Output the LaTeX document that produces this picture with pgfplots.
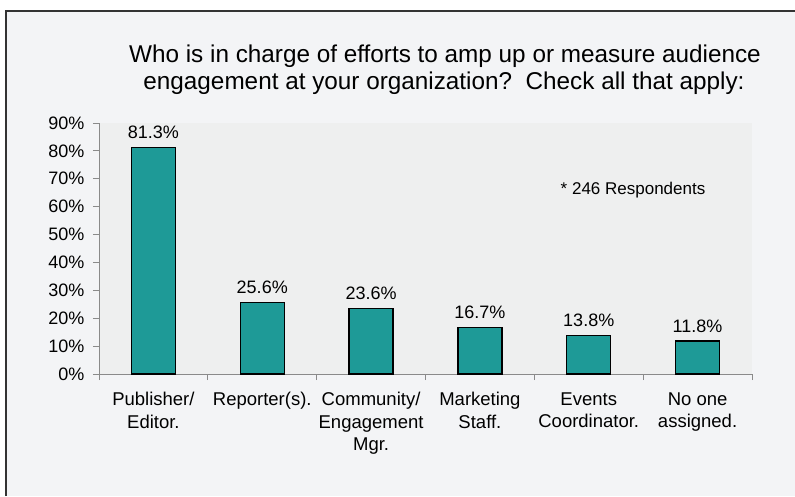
\documentclass[border=0pt]{standalone}
\usepackage{pgfplots}
\pgfplotsset{compat=1.18}
\usepackage{fontspec}
\setmainfont{Liberation Sans}
\definecolor{pagebg}{HTML}{F3F4F6}
\definecolor{plotbg}{HTML}{EEEFEF}
\definecolor{barc}{HTML}{1E9A97}
\definecolor{axc}{HTML}{8A8A8A}
\begin{document}
\begin{tikzpicture}[x=1pt,y=1pt]
\useasboundingbox (0pt,0pt) rectangle (795pt,496pt);
\fill[white] (0pt,0pt) rectangle (795pt,496pt);
\fill[pagebg] (6pt,0pt) rectangle (795pt,485pt);
\draw[line width=2.2pt, black!80] (6pt,0pt) -- (6pt,485pt) -- (795pt,485pt);
\node[anchor=base, font=\fontsize{24.3}{26}\selectfont] at (445pt,433pt)
  {Who is in charge of efforts to amp up or measure audience};
\node[anchor=base, font=\fontsize{24.3}{26}\selectfont] at (444pt,406pt)
  {engagement at your organization?\ \ Check all that apply:};
\begin{axis}[
  at={(99pt,122pt)}, anchor=south west,
  scale only axis, width=653pt, height=251pt,
  xmin=-0.5, xmax=5.5, ymin=0, ymax=90,
  axis lines*=left,
  axis line style={axc, line width=1pt},
  axis background/.style={fill=plotbg},
  tick align=outside,
  major tick length=6pt,
  every tick/.style={axc, line width=1pt},
  xtick={-0.5,0.5,...,5.5},
  x tick label as interval,
  xticklabels={{Publisher/\\Editor.},{Reporter(s).},{Community/\\Engagement\\Mgr.},{Marketing\\Staff.},{Events\\Coordinator.},{No one\\assigned.}},
  xticklabel style={align=center, font=\fontsize{18.5}{22.5}\selectfont, yshift=-9pt},
  ytick={0,10,...,90},
  yticklabels={0\%,10\%,20\%,30\%,40\%,50\%,60\%,70\%,80\%,90\%},
  yticklabel style={font=\fontsize{18}{20}\selectfont, xshift=-5pt},
  ybar, bar width=44pt,
  nodes near coords={\pgfmathprintnumber[fixed,fixed zerofill,precision=1]{\pgfplotspointmeta}\%},
  nodes near coords style={font=\fontsize{18}{20}\selectfont, black, yshift=4.5pt, /pgf/number format/assume math mode=true},
  clip=false,
]
\addplot[fill=barc, draw=black, line width=1.3pt] coordinates {(0,81.3) (1,25.6) (2,23.6) (3,16.7) (4,13.8) (5,11.8)};
\node[anchor=base west, font=\fontsize{17}{20}\selectfont] at (axis cs:3.71,64.2) {* 246 Respondents};
\end{axis}
\end{tikzpicture}
\end{document}
